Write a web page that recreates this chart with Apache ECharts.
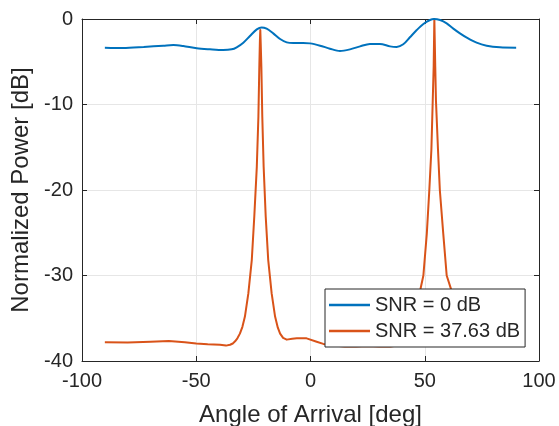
<!DOCTYPE html>
<html>
<head>
<meta charset="utf-8">
<script src="https://cdn.jsdelivr.net/npm/echarts@6/dist/echarts.min.js"></script>
<style>
  html, body { margin: 0; padding: 0; background: #fff; }
  #chart { width: 559px; height: 426px; }
</style>
</head>
<body>
<div id="chart"></div>
<script>
// Spatial spectrum (normalized power vs. angle of arrival) for two SNR levels
const seriesNames = ['SNR = 0 dB', 'SNR = 37.63 dB'];

const xTicks = [-100, -50, 0, 50, 100];
const yTicks = [-40, -30, -20, -10, 0];

// SNR = 0 dB
const angleLow = [-90, -82, -73, -64.4, -60, -55.7, -49.8, -44, -38.2, -34.5, -32.3, -29.4, -26.5, -23.5, -21.4, -19.2, -16.3, -13.3, -10.4, -7.5, -3.2, -0.2, 4.2, 8.5, 12.9, 17.3, 21.7, 26, 30.4, 34.8, 37.7, 40.6, 43.5, 46.5, 49.4, 52.3, 54, 56.7, 59.6, 62.5, 65.4, 68.4, 72.7, 77.1, 82.9, 90];
const powerLow = [-3.35, -3.39, -3.27, -3.12, -3.04, -3.16, -3.43, -3.55, -3.63, -3.55, -3.31, -2.77, -1.99, -1.21, -0.98, -1.13, -1.68, -2.34, -2.73, -2.81, -2.81, -2.85, -3.12, -3.47, -3.74, -3.55, -3.2, -2.92, -2.92, -3.2, -3.27, -2.96, -2.14, -1.29, -0.58, -0.12, 0, -0.12, -0.51, -1.13, -1.68, -2.18, -2.77, -3.12, -3.31, -3.35];

// SNR = 37.63 dB
const angleHigh = [-90, -80, -70, -62, -55, -50, -45, -39.6, -37, -35.2, -34, -33, -32, -30.9, -29.8, -28.7, -27.2, -25.7, -24.6, -23.5, -22.8, -22.4, -22.15, -21.97, -21.75, -21.5, -21.1, -20.5, -19.6, -18.5, -17, -15.5, -14.3, -13.3, -12, -10.4, -8, -6, -1.7, 2.7, 5.6, 10, 15, 20, 25, 30, 35, 38, 41, 43, 44.5, 45.5, 47, 48.2, 49.4, 50.9, 52, 52.9, 53.5, 53.9, 54.2, 54.6, 54.9, 55.8, 56.6, 58.1, 59.6, 61.4, 63, 65, 66.5, 68, 70.5, 73, 78, 84, 90];
const powerHigh = [-37.8, -37.85, -37.75, -37.65, -37.8, -37.95, -38.05, -38.1, -38.2, -38.1, -37.95, -37.7, -37.35, -36.8, -36.0, -34.8, -32.1, -28.2, -23.1, -17.3, -11.4, -5.6, -2.6, -1.29, -3.2, -5.6, -11.4, -17.3, -23.1, -28.2, -32.1, -34.8, -36.1, -36.8, -37.3, -37.5, -37.4, -37.35, -37.35, -37.74, -38.0, -38.2, -38.3, -38.3, -38.25, -38.3, -38.3, -38.2, -38.0, -37.5, -36.9, -36.0, -33.5, -31.5, -30.0, -25.1, -20.0, -15.3, -9.5, -5.6, 0, -5.6, -9.5, -15.3, -20.0, -25.1, -30.0, -31.5, -33.5, -36.0, -37.0, -37.5, -37.9, -38.1, -38.0, -37.9, -37.85];

const pairs = (xs, ys) => xs.map((x, i) => [x, ys[i]]);

const FONT = 'Liberation Sans, Arial, Helvetica, sans-serif';
const AXIS_COLOR = '#262626';

const chart = echarts.init(document.getElementById('chart'), null, { renderer: 'canvas' });

const baseX = {
  type: 'value', min: xTicks[0], max: xTicks[xTicks.length - 1], interval: 50
};
const baseY = {
  type: 'value', min: yTicks[0], max: yTicks[yTicks.length - 1], interval: 10
};

chart.setOption({
  animation: false,
  backgroundColor: '#ffffff',
  grid: { left: 82, right: 20, top: 19, bottom: 65, containLabel: false, outerBoundsMode: 'none' },
  legend: {
    orient: 'vertical',
    left: 325,
    top: 289,
    padding: [6, 5, 6, 4],
    itemGap: 6,
    itemWidth: 41,
    itemHeight: 2.5,
    icon: 'rect',
    backgroundColor: '#ffffff',
    borderColor: AXIS_COLOR,
    borderWidth: 1,
    borderRadius: 0,
    textStyle: { fontFamily: FONT, fontSize: 20, color: AXIS_COLOR, lineHeight: 20 },
    data: seriesNames
  },
  xAxis: [
    Object.assign({}, baseX, {
      position: 'bottom',
      name: 'Angle of Arrival [deg]',
      nameLocation: 'middle',
      nameGap: 42,
      nameTextStyle: { fontFamily: FONT, fontSize: 24, color: AXIS_COLOR },
      axisLine: { show: true, onZero: false, lineStyle: { color: AXIS_COLOR, width: 1 } },
      axisTick: { show: true, inside: true, length: 5, lineStyle: { color: AXIS_COLOR } },
      axisLabel: { fontFamily: FONT, fontSize: 20, color: AXIS_COLOR, margin: 10 },
      splitLine: { show: true, lineStyle: { color: '#e6e6e6', width: 1 } }
    }),
    Object.assign({}, baseX, {
      position: 'top',
      axisLine: { show: true, onZero: false, lineStyle: { color: AXIS_COLOR, width: 1 } },
      axisTick: { show: true, inside: true, length: 5, lineStyle: { color: AXIS_COLOR } },
      axisLabel: { show: false },
      splitLine: { show: false }
    })
  ],
  yAxis: [
    Object.assign({}, baseY, {
      position: 'left',
      name: 'Normalized Power [dB]',
      nameLocation: 'middle',
      nameGap: 46,
      nameTextStyle: { fontFamily: FONT, fontSize: 24, color: AXIS_COLOR },
      axisLine: { show: true, onZero: false, lineStyle: { color: AXIS_COLOR, width: 1 } },
      axisTick: { show: true, inside: true, length: 5, lineStyle: { color: AXIS_COLOR } },
      axisLabel: { fontFamily: FONT, fontSize: 20, color: AXIS_COLOR, margin: 9 },
      splitLine: { show: true, lineStyle: { color: '#e6e6e6', width: 1 } }
    }),
    Object.assign({}, baseY, {
      position: 'right',
      axisLine: { show: true, onZero: false, lineStyle: { color: AXIS_COLOR, width: 1 } },
      axisTick: { show: true, inside: true, length: 5, lineStyle: { color: AXIS_COLOR } },
      axisLabel: { show: false },
      splitLine: { show: false }
    })
  ],
  series: [
    {
      name: seriesNames[0],
      type: 'line',
      xAxisIndex: 0,
      yAxisIndex: 0,
      data: pairs(angleLow, powerLow),
      smooth: 0.3,
      symbol: 'none',
      lineStyle: { color: '#0072BD', width: 2 },
      itemStyle: { color: '#0072BD' },
      z: 3
    },
    {
      name: seriesNames[1],
      type: 'line',
      xAxisIndex: 0,
      yAxisIndex: 0,
      data: pairs(angleHigh, powerHigh),
      smooth: false,
      symbol: 'none',
      lineStyle: { color: '#D95319', width: 2, join: 'round' },
      itemStyle: { color: '#D95319' },
      z: 2
    }
  ]
});
</script>
</body>
</html>
